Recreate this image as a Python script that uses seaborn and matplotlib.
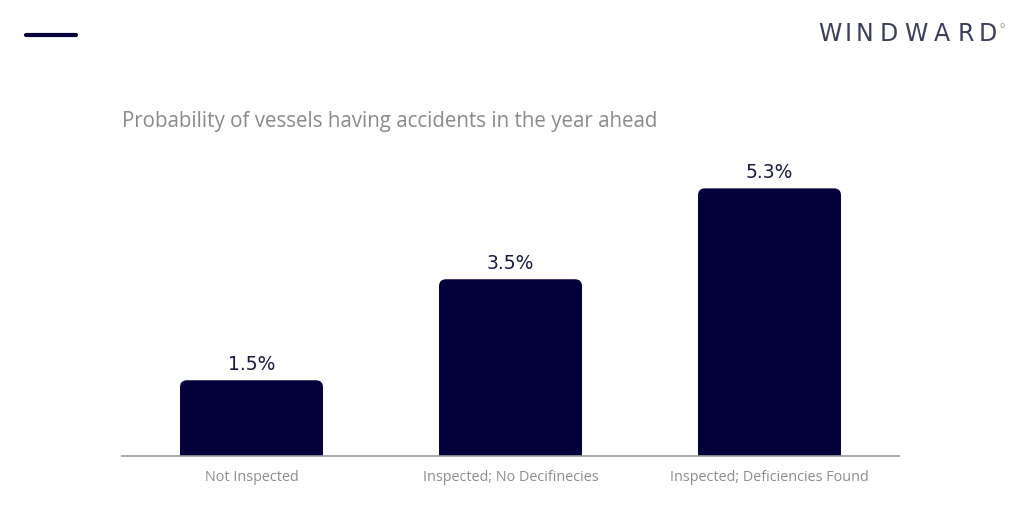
import matplotlib
matplotlib.use("Agg")
import matplotlib.pyplot as plt
from matplotlib.patches import FancyBboxPatch
import seaborn as sns
import pandas as pd

# data
categories = ["Not Inspected", "Inspected; No Decifinecies", "Inspected; Deficiencies Found"]
probability = [1.5, 3.5, 5.3]
value_labels = ["1.5%", "3.5%", "5.3%"]

navy = "#03003a"
grey = "#8c8c8c"

df = pd.DataFrame({"category": categories, "prob": probability})

sns.set_style("white")
fig = plt.figure(figsize=(10.24, 5.21), dpi=100)
ax = fig.add_axes([122 / 1024, 65 / 521, 777 / 1024, 303 / 521])

sns.barplot(data=df, x="category", y="prob", color=navy, width=0.552,
            saturation=1, ax=ax)
ax.set_xlim(-0.5, 2.5)
ax.set_ylim(0, 6)

# swap plain bars for ones with rounded top corners
x_per_px = 3 / 777
y_per_px = 6 / 303
for p in list(ax.patches):
    x, w, h = p.get_x(), p.get_width(), p.get_height()
    rb = FancyBboxPatch((x, -0.5), w, h + 0.5,
                        boxstyle="round,pad=0,rounding_size=%f" % (7 * x_per_px),
                        mutation_aspect=y_per_px / x_per_px,
                        facecolor=navy, edgecolor="none", clip_on=True)
    p.remove()
    ax.add_patch(rb)

for i, (v, lab) in enumerate(zip(probability, value_labels)):
    ax.text(i, v + 0.12, lab, ha="center", va="bottom", fontsize=13.5,
            color="#1a1a40", family="DejaVu Sans")

for s in ["top", "right", "left"]:
    ax.spines[s].set_visible(False)
ax.spines["bottom"].set_color("#9a9a9a")
ax.spines["bottom"].set_linewidth(1.2)
ax.set_yticks([])
ax.set_xlabel("")
ax.set_ylabel("")
ax.tick_params(axis="x", length=0, pad=10)
for t in ax.get_xticklabels():
    t.set_fontfamily("Open Sans")
    t.set_fontsize(10.4)
    t.set_color(grey)

fig.text(122 / 1024, 1 - 121 / 521, "Probability of vessels having accidents in the year ahead",
         ha="left", va="center", fontsize=14.8, color="#8a8a8a", family="Open Sans")

# header decoration
fig.add_artist(plt.Line2D([26 / 1024, 76 / 1024], [1 - 34.5 / 521, 1 - 34.5 / 521],
                          color=navy, linewidth=3, transform=fig.transFigure))
logo_x = [830, 848, 864, 889, 916, 942, 966, 988]
for ch, cx in zip("WINDWARD", logo_x):
    fig.text(cx / 1024, 1 - 34 / 521, ch, ha="center", va="center", fontsize=17,
             color="#3c3e5a", family="DejaVu Sans")
fig.text(999 / 1024, 1 - 26 / 521, "o", ha="left", va="center", fontsize=6,
         color="#999999", family="DejaVu Sans")

fig.savefig("out.png", dpi=100, facecolor="white")
